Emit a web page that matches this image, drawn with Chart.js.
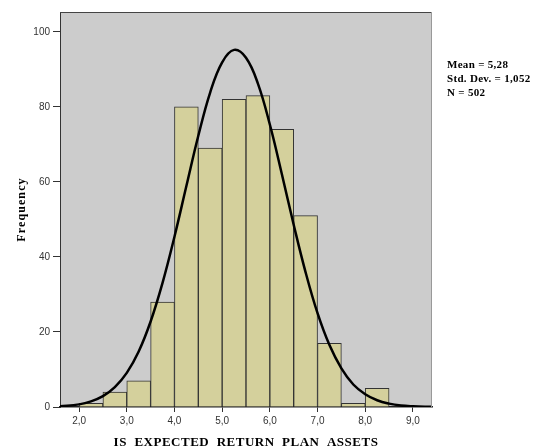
<!DOCTYPE html>
<html>
<head>
<meta charset="utf-8">
<script src="https://cdn.jsdelivr.net/npm/chart.js@4"></script>
<style>
  html, body { margin: 0; padding: 0; background: #fff; }
  #wrap { width: 538px; height: 448px; }
</style>
</head>
<body>
<div id="wrap"><canvas id="histChart" width="538" height="448"></canvas></div>
<script>
// histogram bins (width 0.5) and counts
const binCenters = [2.25, 2.75, 3.25, 3.75, 4.25, 4.75, 5.25, 5.75, 6.25, 6.75, 7.25, 7.75, 8.25];
const frequencies = [1, 4, 7, 28, 80, 69, 82, 83, 74, 51, 17, 1, 5];

// normal curve
const curveX = [1.6, 2.0, 2.25, 2.5, 2.75, 3.0, 3.25, 3.5, 3.75, 4.0, 4.25, 4.5, 4.75, 5.0, 5.25,
                5.5, 5.75, 6.0, 6.25, 6.5, 6.75, 7.0, 7.25, 7.5, 7.75, 8.0, 8.25, 8.5, 8.75, 9.0, 9.4];
const curveY = [0.2, 0.7, 1.5, 2.9, 5.3, 9.1, 14.8, 22.8, 33.1, 45.4, 58.9, 72.3, 83.9, 91.9, 95.2,
                93.1, 86.2, 75.3, 62.2, 48.6, 35.9, 25.0, 16.5, 10.3, 6.0, 3.4, 1.8, 0.9, 0.4, 0.2, 0.04];

const xTicks = [2, 3, 4, 5, 6, 7, 8, 9];
const yTicks = [0, 20, 40, 60, 80, 100];
const xTitle = 'IS  EXPECTED  RETURN  PLAN  ASSETS';
const yTitle = 'Frequency';
const statLines = ['Mean = 5,28', 'Std. Dev. = 1,052', 'N = 502'];

const plotBox = {
  id: 'plotBox',
  beforeDraw(chart) {
    const { ctx, chartArea: a } = chart;
    ctx.save();
    ctx.fillStyle = '#cccccc';
    ctx.fillRect(a.left, a.top, a.right - a.left, a.bottom - a.top);
    ctx.restore();
  },
  afterDraw(chart) {
    const { ctx, chartArea: a } = chart;
    ctx.save();
    ctx.strokeStyle = '#444';
    ctx.lineWidth = 1;
    ctx.beginPath();
    ctx.moveTo(a.left, a.top + 0.5);
    ctx.lineTo(a.right, a.top + 0.5);
    ctx.stroke();
    ctx.strokeStyle = '#999';
    ctx.beginPath();
    ctx.moveTo(a.right - 0.5, a.top);
    ctx.lineTo(a.right - 0.5, a.bottom);
    ctx.stroke();

    ctx.fillStyle = '#000';
    ctx.textBaseline = 'alphabetic';

    // stats box
    ctx.font = 'bold 11px "Liberation Serif"';
    ctx.letterSpacing = '0.3px';
    ctx.textAlign = 'left';
    statLines.forEach((t, i) => ctx.fillText(t, 447, 67.5 + i * 14));

    // axis titles
    ctx.font = 'bold 13px "Liberation Serif"';
    ctx.letterSpacing = '0.5px';
    ctx.textAlign = 'center';
    ctx.fillText(xTitle, (a.left + a.right) / 2, 446);

    ctx.font = 'bold 12px "Liberation Serif"';
    ctx.letterSpacing = '1.1px';
    ctx.translate(25, (a.top + a.bottom) / 2);
    ctx.rotate(-Math.PI / 2);
    ctx.fillText(yTitle, 0, 0);
    ctx.restore();
  }
};

const fmt = v => v.toFixed(1).replace('.', ',');

new Chart(document.getElementById('histChart').getContext('2d'), {
  type: 'bar',
  data: {
    datasets: [
      {
        type: 'line',
        data: curveX.map((x, i) => ({ x: x, y: curveY[i] })),
        borderColor: '#000',
        borderWidth: 2.5,
        pointRadius: 0,
        tension: 0.4,
        fill: false,
        order: 0
      },
      {
        type: 'bar',
        data: binCenters.map((x, i) => ({ x: x, y: frequencies[i] })),
        backgroundColor: '#d4d09c',
        borderColor: '#333',
        borderWidth: 1,
        barPercentage: 1,
        categoryPercentage: 1,
        order: 1
      }
    ]
  },
  options: {
    responsive: false,
    animation: false,
    layout: { padding: { left: 0, right: 106, top: 12, bottom: 0 } },
    plugins: { legend: { display: false }, tooltip: { enabled: false } },
    scales: {
      x: {
        type: 'linear',
        min: 1.6,
        max: 9.4,
        offset: false,
        afterBuildTicks: s => { s.ticks = xTicks.map(v => ({ value: v })); },
        afterFit: s => { s.height = 41; },
        grid: { display: true, offset: false, drawOnChartArea: false, tickLength: 5, color: '#333' },
        border: { display: true, color: '#222', width: 1.5 },
        ticks: {
          callback: v => fmt(v),
          color: '#333',
          font: { family: '"Liberation Sans"', size: 10 },
          padding: 3,
          maxRotation: 0
        }
      },
      y: {
        min: 0,
        max: 105.3,
        afterBuildTicks: s => { s.ticks = yTicks.map(v => ({ value: v })); },
        afterFit: s => { s.width = 60; },
        grid: { display: true, drawOnChartArea: false, tickLength: 7, color: '#333' },
        border: { display: true, color: '#333', width: 1 },
        ticks: {
          color: '#333',
          font: { family: '"Liberation Sans"', size: 10 },
          padding: 3
        }
      }
    }
  },
  plugins: [plotBox]
});
</script>
</body>
</html>
